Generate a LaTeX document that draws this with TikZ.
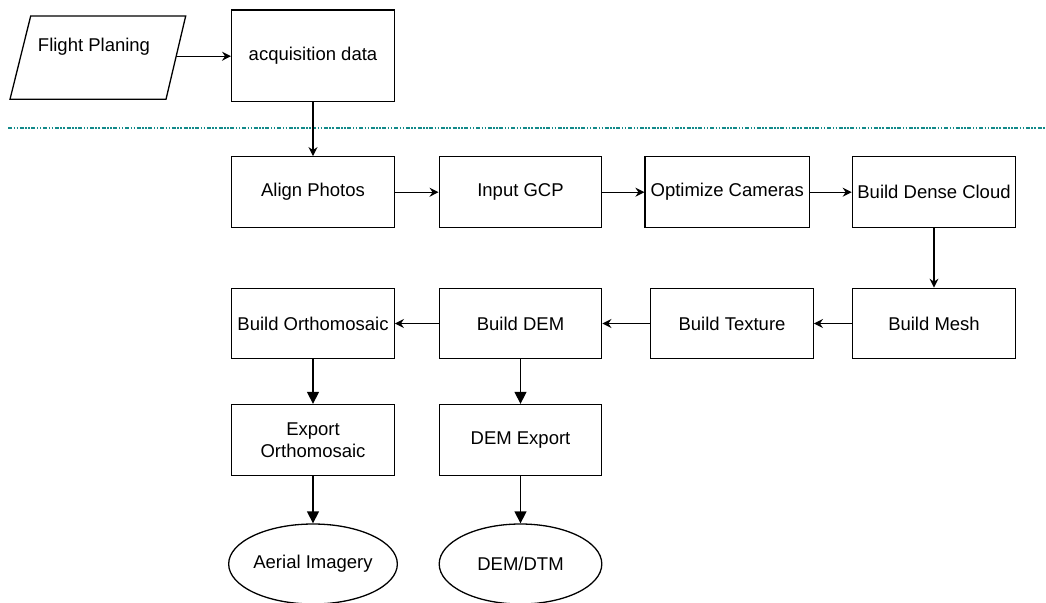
\documentclass[tikz,border=0pt]{standalone}
\usepackage{fontspec}
\setmainfont{Liberation Sans}
\usetikzlibrary{arrows.meta,shapes.geometric}
\definecolor{septeal}{HTML}{138A8A}
\begin{document}
\begin{tikzpicture}[x=1pt,y=-1pt,
  every node/.style={font=\fontsize{18.5}{22}\selectfont},
  stepbox/.style={draw,line width=1.3pt,minimum width=162.6pt,minimum height=71pt,inner sep=0pt,align=center},
  endell/.style={draw,ellipse,line width=1.3pt,minimum width=162.6pt,minimum height=80pt,inner sep=0pt},
  flow/.style={line width=1.3pt,-{Stealth[length=9pt,width=9pt,inset=3pt]}},
  flowb/.style={line width=1.3pt,-{Triangle[length=12pt,width=12pt]}}]
\useasboundingbox (0,0) rectangle (1046,602);
% parallelogram
\draw[line width=1.3pt,line join=miter] (30.7,16) coordinate (ftl) -- (185.7,16) coordinate (ftr)
  -- (166,99.3) coordinate (fbr) -- (10,99.3) coordinate (fbl) -- cycle;
\coordinate (flightout) at (176,56.2);
\node (flighttext) at (94,46.7) {Flight Planing};
\node[stepbox,minimum height=91.7pt] (acq) at (313,55.8) {acquisition data};
% separator
\draw[septeal,line width=2pt,dash pattern=on 4pt off 1.5pt on 1.5pt off 1.5pt on 1.5pt off 1.7pt] (8,128.3) coordinate (sepl) -- (1046,128.3) coordinate (sepr);
% row 1
\node[stepbox] (align) at (313,192.2) {Align Photos};
\node[stepbox] (gcp) at (520.5,192.2) {Input GCP};
\node[stepbox,minimum width=164.3pt] (opt) at (727.2,192.2) {Optimize Cameras};
\node[stepbox,minimum width=163.4pt] (dense) at (934,192.2) {Build Dense Cloud};
% row 2
\node[stepbox,minimum height=70.4pt] (ortho) at (313,323.5) {Build Orthomosaic};
\node[stepbox,minimum height=70.4pt] (dem) at (520.5,323.5) {Build DEM};
\node[stepbox,minimum height=70.4pt] (tex) at (732,323.5) {Build Texture};
\node[stepbox,minimum height=70.4pt,minimum width=163.4pt] (mesh) at (934,323.5) {Build Mesh};
% row 3
\node[stepbox] (exportortho) at (313,440) {Export\\Orthomosaic};
\node[stepbox] (demexport) at (520.5,440) {DEM Export};
% ellipses
\node[endell] (aerial) at (313,564) {Aerial Imagery};
\node[endell] (demdtm) at (520.5,564) {DEM/DTM};
% connectors
\draw[flow] (flightout) -- (flightout -| acq.west);
\draw[flow] (acq) -- (align);
\draw[flow] (align) -- (gcp);
\draw[flow] (gcp) -- (opt);
\draw[flow] (opt) -- (dense);
\draw[flow] (dense) -- (mesh);
\draw[flow] (mesh) -- (tex);
\draw[flow] (tex) -- (dem);
\draw[flow] (dem) -- (ortho);
\draw[flowb] (ortho) -- (exportortho);
\draw[flowb] (exportortho) -- (aerial);
\draw[flowb] (dem) -- (demexport);
\draw[flowb] (demexport) -- (demdtm);
\end{tikzpicture}
\end{document}
